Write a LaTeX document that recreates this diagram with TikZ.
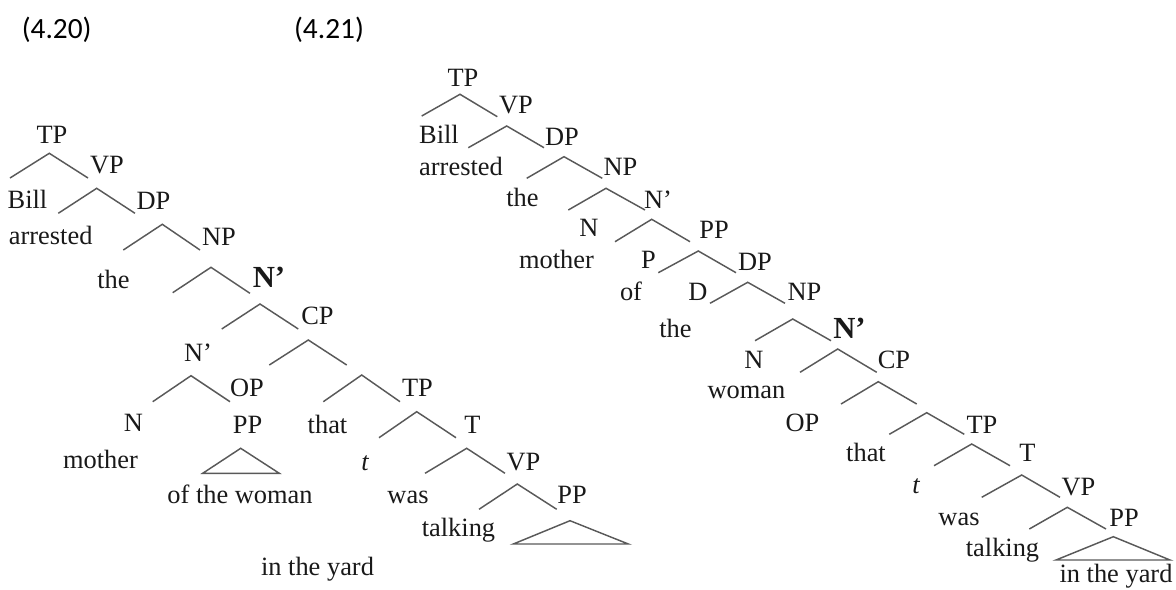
\documentclass[tikz,border=0pt]{standalone}
\usepackage{fontspec}
\setmainfont{Liberation Serif}
\newfontfamily\numfont{Carlito}
\begin{document}
\begin{tikzpicture}[x=0.75pt,y=-0.75pt,
  lbl/.style={anchor=base,inner sep=0pt,text=black!90,font=\fontsize{19.8}{22}\selectfont},
  bold/.style={lbl,font=\fontsize{23}{26}\selectfont\bfseries},
  exnum/.style={anchor=base,inner sep=0pt,font=\fontsize{22}{26}\numfont},
  branch/.style={draw=black!65,line width=1.1pt,line join=miter},
  roof/.style={branch}]
\useasboundingbox (0,0) rectangle (1176,589);

% a binary fork: name, apex, left foot, right foot
\newcommand\treefork[4]{%
  \coordinate (#1-a) at (#2);
  \coordinate (#1-l) at (#3);
  \coordinate (#1-r) at (#4);
  \draw[branch] (#1-l) -- (#1-a) -- (#1-r);}
% a triangle standing for an unanalysed constituent
\newcommand\treeroof[4]{%
  \coordinate (#1-a) at (#2);
  \coordinate (#1-l) at (#3);
  \coordinate (#1-r) at (#4);
  \draw[roof] (#1-l) -- (#1-a) -- (#1-r) -- cycle;}

% example numbers
\node[exnum] (ex1) at (56.7,38.3) {(4.20)};
\node[exnum] (ex2) at (329,38.3) {(4.21)};

% ---------------- (4.20) ----------------
\treefork{a1}{49.3,153.3}{10,178}{88,178}
\treefork{a2}{96.7,188.3}{58.3,213.3}{135,213.3}
\treefork{a3}{162.3,224.3}{123.3,250}{200,250}
\treefork{a4}{211,267.3}{172.7,292.7}{250,293.3}
\treefork{a5}{260,304}{221.7,329}{298.3,329}
\treefork{a6}{308.3,340}{269.3,365}{346.7,365}
\treefork{a7}{191,375.7}{152.7,401.7}{230,401.7}
\treefork{a8}{361.7,375}{323.3,401.7}{400,401.7}
\treefork{a9}{416.7,411.7}{379,437.7}{456,437.7}
\treefork{a10}{466.7,448.3}{425,473.3}{505,473.3}
\treefork{a11}{517.3,484}{479,509.3}{556.7,509.3}
\treeroof{ar1}{240.7,448.3}{202.7,473.3}{279.3,473.3}
\treeroof{ar2}{570,520.7}{513.3,544}{628.3,544}

\node[lbl] (aTP) at (52,143.3) {TP};
\node[lbl] (aVP) at (107,173.3) {VP};
\node[lbl] (aBill) at (27.5,208.3) {Bill};
\node[lbl] (aDP) at (153.5,209.3) {DP};
\node[lbl] (aarr) at (50.7,244.3) {arrested};
\node[lbl] (aNP) at (219,245) {NP};
\node[lbl] (athe) at (113.5,288.3) {the};
\node[bold] (aNb) at (269,287.3) {N’};
\node[lbl] (aCP) at (317.5,324) {CP};
\node[lbl] (aNbar) at (198,361.7) {N’};
\node[lbl] (aOP) at (247,396.7) {OP};
\node[lbl] (aTP2) at (417.5,396.7) {TP};
\node[lbl] (aN) at (133.5,431.7) {N};
\node[lbl] (aPP) at (247.5,433.3) {PP};
\node[lbl] (athat) at (327.5,433.3) {that};
\node[lbl] (aT) at (472.5,433.3) {T};
\node[lbl] (amother) at (100.5,468.3) {mother};
\node[lbl] (at) at (365,470) {\itshape t};
\node[lbl] (aVP2) at (523.5,470) {VP};
\node[lbl] (aofwoman) at (240,503.3) {of the woman};
\node[lbl] (awas) at (408,503.3) {was};
\node[lbl] (aPP2) at (572,503.3) {PP};
\node[lbl] (atalk) at (458.5,536.7) {talking};
\node[lbl] (ayard) at (317.5,575) {in the yard};

% ---------------- (4.21) ----------------
\treefork{b1}{460,94.3}{421.7,116}{497.3,116.7}
\treefork{b2}{506.7,126}{468.3,147.7}{544,147.7}
\treefork{b3}{564,156.7}{526.7,178.3}{602.3,178.3}
\treefork{b4}{606,188.3}{568.3,210}{645,210}
\treefork{b5}{651.7,219.3}{615,241.7}{690,241.7}
\treefork{b6}{698.3,251}{658.3,272.7}{736,272.7}
\treefork{b7}{747.7,282.3}{710,303.3}{785,303.3}
\treefork{b8}{792.7,319}{755,340.7}{831,340.7}
\treefork{b9}{837.7,349}{800,372.3}{876.7,372.3}
\treefork{b10}{878.3,381.7}{841,404}{916.7,404}
\treefork{b11}{926.7,412.7}{889.3,434.3}{964.3,434.3}
\treefork{b12}{971.7,444}{934,465.7}{1010,465.7}
\treefork{b13}{1021.7,475}{981.7,497.3}{1060,497.3}
\treefork{b14}{1067.3,507.3}{1029.3,529}{1106,529}
\treeroof{br1}{1113.3,536.7}{1056,560}{1170,560}

\node[lbl] (bTP) at (463,86.7) {TP};
\node[lbl] (bVP) at (516,113.3) {VP};
\node[lbl] (bBill) at (439,143.3) {Bill};
\node[lbl] (bDP) at (562,145) {DP};
\node[lbl] (barr) at (461,175) {arrested};
\node[lbl] (bNP) at (620.5,175) {NP};
\node[lbl] (bthe) at (522.5,206.7) {the};
\node[lbl] (bNbar) at (658,208.3) {N’};
\node[lbl] (bN) at (589,236.7) {N};
\node[lbl] (bPP) at (714,238.3) {PP};
\node[lbl] (bmother) at (556.5,268.3) {mother};
\node[lbl] (bP) at (648.5,268.3) {P};
\node[lbl] (bDP2) at (755,270) {DP};
\node[lbl] (bof) at (631,300) {of};
\node[lbl] (bD) at (698,300) {D};
\node[lbl] (bNP2) at (804.5,300) {NP};
\node[lbl] (bthe2) at (675.5,337.3) {the};
\node[bold] (bNb) at (849.5,338) {N’};
\node[lbl] (bN2) at (754,368.3) {N};
\node[lbl] (bCP) at (894,368.3) {CP};
\node[lbl] (bwoman) at (746.5,398.3) {woman};
\node[lbl] (bOP) at (802.5,431.7) {OP};
\node[lbl] (bTP2) at (982,433.3) {TP};
\node[lbl] (bthat) at (866,461.7) {that};
\node[lbl] (bT) at (1027.5,461.7) {T};
\node[lbl] (bt) at (916,493.3) {\itshape t};
\node[lbl] (bVP2) at (1078.5,495) {VP};
\node[lbl] (bwas) at (959,525) {was};
\node[lbl] (bPP2) at (1124,526) {PP};
\node[lbl] (btalk) at (1002.5,556.7) {talking};
\node[lbl] (byard) at (1116,582.5) {in the yard};
\end{tikzpicture}
\end{document}
